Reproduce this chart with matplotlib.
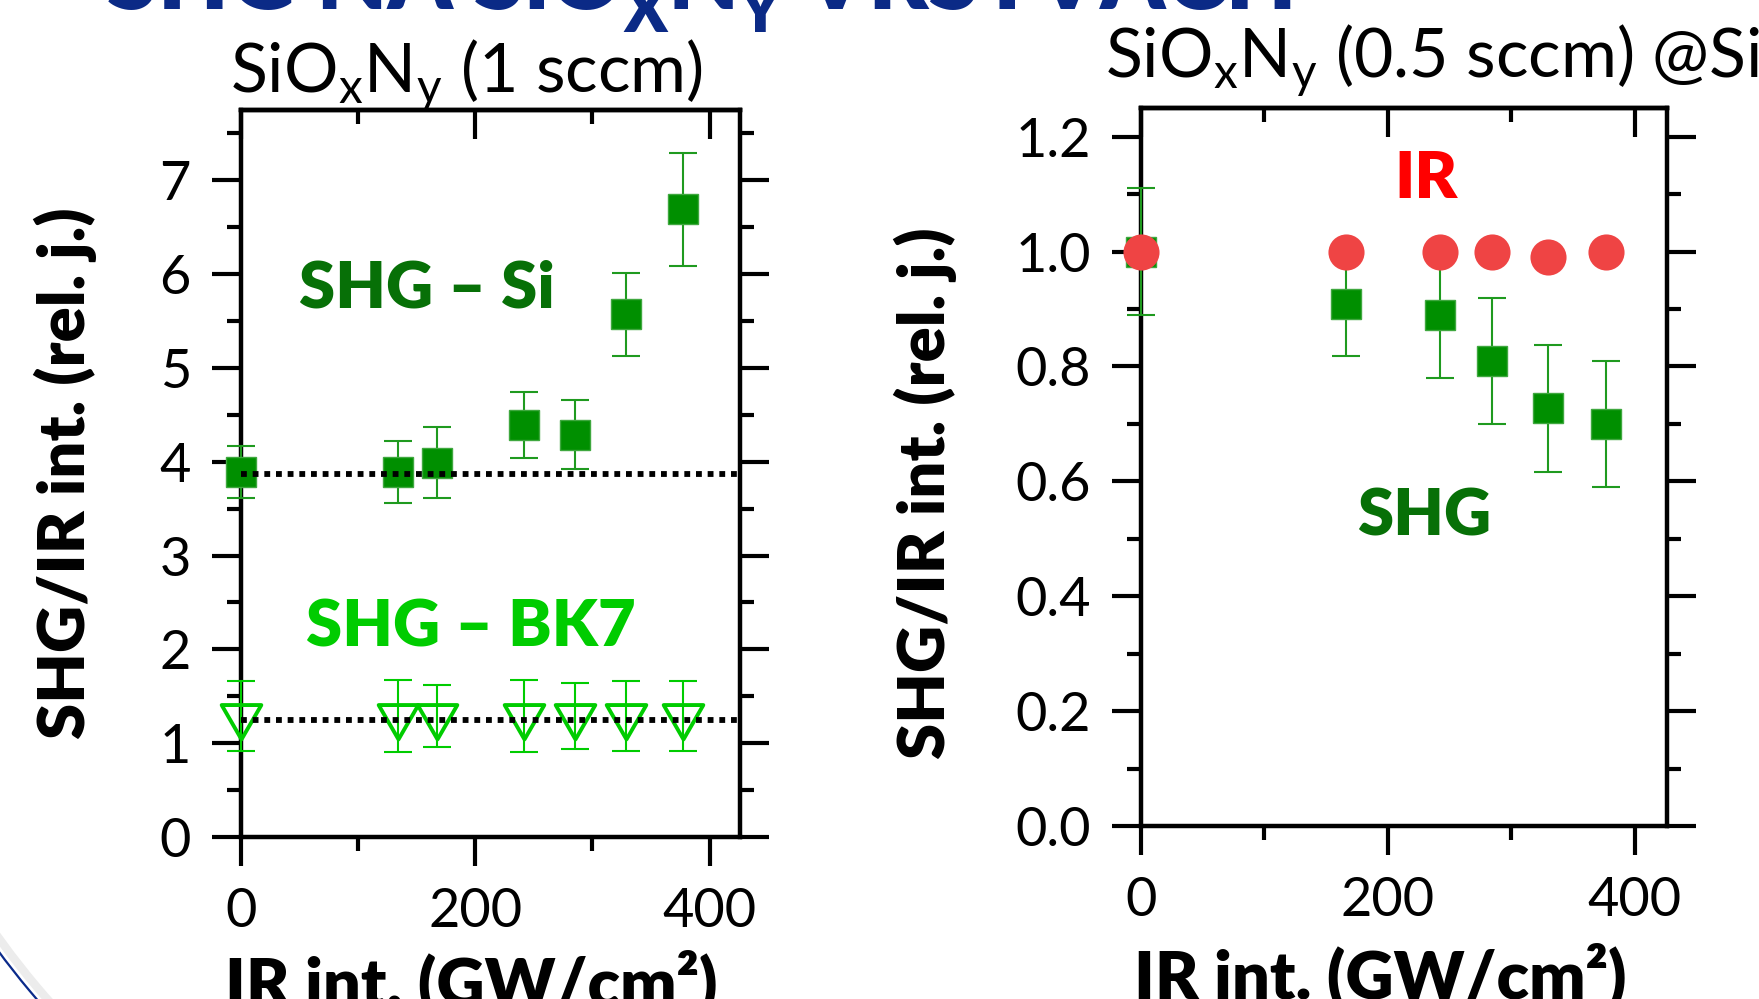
import matplotlib
matplotlib.use("Agg")
import matplotlib.pyplot as plt
from matplotlib.patches import Arc
from matplotlib.path import Path
from matplotlib.ticker import FormatStrFormatter

# levý graf: SiOxNy (1 sccm)
x_left = [0, 134, 167, 242, 285, 329, 377]
shg_si = [3.89, 3.89, 3.99, 4.39, 4.29, 5.57, 6.69]
shg_si_err = [0.28, 0.33, 0.38, 0.35, 0.37, 0.44, 0.60]
shg_bk7 = [1.29, 1.29, 1.29, 1.29, 1.29, 1.29, 1.29]
shg_bk7_err = [0.37, 0.38, 0.33, 0.38, 0.35, 0.37, 0.37]
level_si = 3.87
level_bk7 = 1.25

# pravý graf: SiOxNy (0.5 sccm) @Si
x_right = [0, 166, 242, 284, 330, 377]
shg = [1.0, 0.909, 0.890, 0.809, 0.727, 0.70]
shg_err = [0.11, 0.09, 0.11, 0.11, 0.11, 0.11]
ir = [1.0, 1.0, 1.0, 1.0, 0.99, 1.0]

plt.rcParams['font.family'] = ['Lato', 'DejaVu Sans']

DARK_GREEN = '#077007'
SQ_GREEN = '#008f00'
ERR_GREEN = '#1f9a1f'
BK7_GREEN = '#00cc00'
BOLD = 'heavy'

# trojúhelník se středem v těžišti (jako v Originu)
tri = Path([(-1, 0.577), (1, 0.577), (0, -1.155), (-1, 0.577)],
           [Path.MOVETO, Path.LINETO, Path.LINETO, Path.CLOSEPOLY])


def style_axes(ax, ymax, ymajor, yminor):
    ax.set_xlim(0, 426)
    ax.set_ylim(0, ymax)
    for s in ax.spines.values():
        s.set_linewidth(3.2)
    ax.set_xticks([0, 200, 400])
    ax.set_xticks([100, 300], minor=True)
    ax.set_yticks(ymajor)
    ax.set_yticks(yminor, minor=True)
    ax.tick_params(which='both', direction='out', width=3, left=True,
                   right=True, bottom=True, top=False)
    ax.tick_params(which='major', length=21, labelsize=39, pad=15)
    ax.tick_params(which='minor', length=10)
    top = ax.secondary_xaxis('top')
    top.set_xticks([0, 200, 400])
    top.set_xticks([100, 300], minor=True)
    top.tick_params(which='both', direction='in', width=3, labeltop=False)
    top.tick_params(which='major', length=21)
    top.tick_params(which='minor', length=10)
    top.spines['top'].set_linewidth(3.2)


def errbars(ax, x, y, err, color, z):
    eb = ax.errorbar(x, y, yerr=err, fmt='none', ecolor=color, elinewidth=1.5,
                     capsize=10, capthick=1.5, zorder=z)
    for art in list(eb.lines[1]) + list(eb.lines[2]):
        art.set_clip_on(False)


fig = plt.figure(figsize=(17.59, 9.99), dpi=100)
renderer = fig.canvas.get_renderer()

# dekorace slidu (oblouk vlevo dole)
deco = fig.add_axes([0, 0, 1, 1], zorder=-5)
deco.set_xlim(0, 1759)
deco.set_ylim(999, 0)
deco.axis('off')
deco.add_patch(Arc((650, 470), 1604, 1604, theta1=125, theta2=155, lw=6,
                   color='#ececec'))
deco.add_patch(Arc((650, 470), 1620, 1620, theta1=125, theta2=155, lw=1.6,
                   color='#0a2a8a'))

# nadpis slidu (useknutý nahoře), dolní indexy posazené níž
title_parts = [('SHG NA SiO', 66, 0), ('X', 46, 23), ('N', 66, 0),
               ('Y', 46, 23), (' VRSTVÁCH', 66, 0)]
xpos = 107
for txt, size, dy in title_parts:
    t = fig.text(xpos / 1759, 1 - (9 + dy) / 999, txt, color='#0b2a86',
                 fontsize=size, fontweight=BOLD, va='baseline', ha='left')
    xpos = t.get_window_extent(renderer).x1

# levý graf
ax1 = fig.add_axes([241 / 1759, 1 - 837 / 999, 499 / 1759, 727 / 999])
style_axes(ax1, 7.75, range(0, 8), [x + 0.5 for x in range(8)])

errbars(ax1, x_left, shg_si, shg_si_err, ERR_GREEN, 3)
errbars(ax1, x_left, shg_bk7, shg_bk7_err, BK7_GREEN, 3)
ax1.plot(x_left, shg_si, 's', color=SQ_GREEN, ms=22, mec='#3fa83f', mew=1,
         zorder=4, clip_on=False)
ax1.plot(x_left, shg_bk7, linestyle='none', marker=tri, ms=33, mfc='none',
         mec=BK7_GREEN, mew=2.8, zorder=4, clip_on=False)
ax1.axhline(level_si, color='black', lw=4.2, linestyle=(0, (1, 1)), zorder=5)
ax1.axhline(level_bk7, color='black', lw=4.2, linestyle=(0, (1, 1)), zorder=5)

ax1.text(159, 5.64, 'SHG – Si', color=DARK_GREEN, fontsize=47,
         fontweight=BOLD, ha='center', va='baseline')
ax1.text(196, 2.03, 'SHG – BK7', color=BK7_GREEN, fontsize=47,
         fontweight=BOLD, ha='center', va='baseline')

ax1.set_xlabel('IR int. (GW/cm²)', fontsize=48, fontweight=BOLD)
ax1.xaxis.set_label_coords(0.461, -0.155)
ax1.set_ylabel('SHG/IR int. (rel. j.)', fontsize=47, fontweight=BOLD)
ax1.yaxis.set_label_coords(-0.289, 0.5)

fig.text(466 / 1759, 1 - 92 / 999, r'SiO$_\mathregular{x}$N$_\mathregular{y}$ (1 sccm)',
         ha='center', va='baseline', fontsize=49)

# pravý graf
ax2 = fig.add_axes([1141 / 1759, 1 - 826 / 999, 526 / 1759, 718 / 999])
style_axes(ax2, 1.25, [0, 0.2, 0.4, 0.6, 0.8, 1.0, 1.2],
           [0.1, 0.3, 0.5, 0.7, 0.9, 1.1])
ax2.yaxis.set_major_formatter(FormatStrFormatter('%.1f'))

errbars(ax2, x_right, shg, shg_err, ERR_GREEN, 3)
ax2.plot(x_right, shg, 's', color=SQ_GREEN, ms=22, mec='#3fa83f', mew=1,
         zorder=4, clip_on=False)
ax2.plot(x_right, ir, 'o', color='#ef4444', ms=26, mew=0, zorder=5,
         clip_on=False)

ax2.text(231, 1.094, 'IR', color='#ff0000', fontsize=47, fontweight=BOLD,
         ha='center', va='baseline')
ax2.text(229, 0.506, 'SHG', color=DARK_GREEN, fontsize=47, fontweight=BOLD,
         ha='center', va='baseline')

ax2.set_xlabel('IR int. (GW/cm²)', fontsize=48, fontweight=BOLD)
ax2.xaxis.set_label_coords(0.454, -0.163)
ax2.set_ylabel('SHG/IR int. (rel. j.)', fontsize=47, fontweight=BOLD)
ax2.yaxis.set_label_coords(-0.35, 0.464)

fig.text(1105 / 1759, 1 - 77 / 999, r'SiO$_\mathregular{x}$N$_\mathregular{y}$ (0.5 sccm) @Si',
         ha='left', va='baseline', fontsize=49)

fig.savefig('out.png', dpi=100)
